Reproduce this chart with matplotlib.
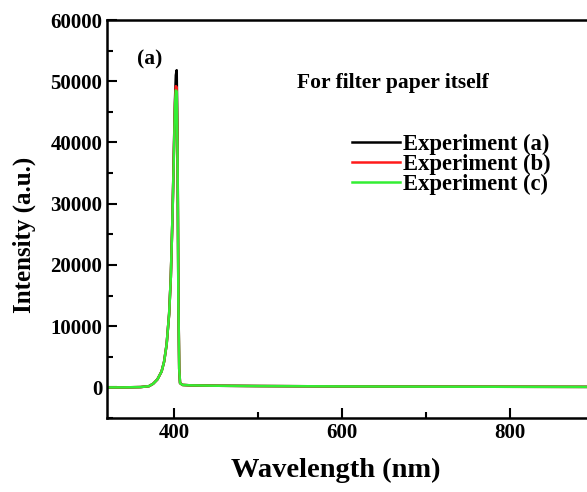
import numpy as np
import matplotlib.pyplot as plt

plt.rcParams['font.family'] = 'Liberation Serif'
plt.rcParams['font.weight'] = 'bold'
plt.rcParams['axes.labelweight'] = 'bold'

# wavelength (nm) and intensity
wl = [320, 340, 360, 370, 375, 380, 385, 388, 391, 394, 396, 398, 400, 401, 402, 403, 404, 405, 406, 407, 410, 420, 450, 500, 600, 700, 800, 900]
exp_a = [0, 0, 50, 200, 600, 1300, 2600, 4200, 7000, 12000, 18000, 28000, 41000, 47000, 51000, 51800, 40000, 15000, 3000, 700, 400, 330, 270, 220, 160, 120, 100, 80]
exp_b = [0, 0, 50, 200, 600, 1300, 2600, 4200, 7000, 12000, 18000, 28000, 40500, 46500, 49200, 49000, 39000, 14500, 3000, 700, 400, 330, 270, 220, 160, 120, 100, 80]
exp_c = [0, 0, 50, 200, 600, 1300, 2600, 4200, 7000, 12000, 18000, 28000, 40000, 46000, 48500, 48300, 38500, 14000, 3000, 700, 400, 330, 270, 220, 160, 120, 100, 80]

fig = plt.figure(figsize=(5.87, 4.92), dpi=100)
ax = fig.add_axes([107/587, 1 - 418/492, 487/587, 398/492])

ax.plot(wl, exp_a, color='black', lw=1.8, label='Experiment (a)')
ax.plot(wl, exp_b, color='#ff1a1a', lw=1.8, label='Experiment (b)')
ax.plot(wl, exp_c, color='#33ee33', lw=1.8, label='Experiment (c)')

ax.set_xlim(320, 900)
ax.set_ylim(-5000, 60000)
ax.set_xticks([400, 600, 800])
ax.set_xticks([500, 700], minor=True)
ax.set_yticks(np.arange(0, 60001, 10000))
ax.set_yticks(np.arange(-5000, 60000, 10000), minor=True)
ax.tick_params(direction='in', width=1.5, length=7, labelsize=15)
ax.tick_params(which='minor', direction='in', width=1.5, length=4)
for s in ax.spines.values():
    s.set_linewidth(1.8)

ax.set_xlabel('Wavelength (nm)', fontsize=20.5)
ax.set_ylabel('Intensity (a.u.)', fontsize=18)
ax.xaxis.set_label_coords(0.47, -0.1)
ax.yaxis.set_label_coords(-0.145, 0.46)

fig.text(150/587, 1 - 59/492, '(a)', fontsize=15.5, ha='center', va='center')
fig.text(297/587, 1 - 83/492, 'For filter paper itself', fontsize=15.5, ha='left', va='center')

ax.legend(loc='upper left', bbox_to_anchor=(352/587, 1 - 134/492), bbox_transform=fig.transFigure,
          frameon=False, fontsize=16.3, borderpad=0, borderaxespad=0,
          handlelength=2.1, handletextpad=0.15, labelspacing=-0.05)

fig.savefig('out.png', dpi=100)
